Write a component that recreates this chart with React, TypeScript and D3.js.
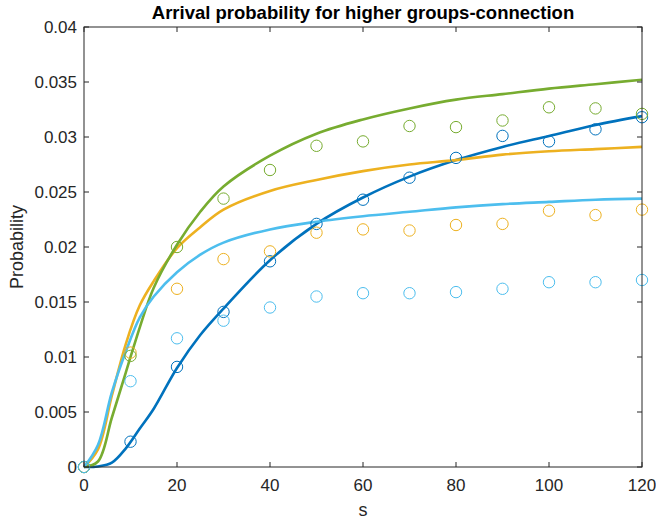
import React from "react";
import * as d3 from "d3";

const sPoints = [0, 10, 20, 30, 40, 50, 60, 70, 80, 90, 100, 110, 120];
const blueSim = [0, 0.0023, 0.0091, 0.0141, 0.0187, 0.0221, 0.0243, 0.0263, 0.0281, 0.0301, 0.0296, 0.0307, 0.0318];
const orangeSim = [0, 0.0104, 0.0162, 0.0189, 0.0196, 0.0213, 0.0216, 0.0215, 0.022, 0.0221, 0.0233, 0.0229, 0.0234];
const greenSim = [0, 0.0101, 0.02, 0.0244, 0.027, 0.0292, 0.0296, 0.031, 0.0309, 0.0315, 0.0327, 0.0326, 0.0321];
const lightSim = [0, 0.0078, 0.0117, 0.0133, 0.0145, 0.0155, 0.0158, 0.0158, 0.0159, 0.0162, 0.0168, 0.0168, 0.017];

const sLine = [0, 3, 6, 9, 12, 15, 20, 25, 30, 40, 50, 60, 70, 80, 90, 100, 110, 120];
const blueModel = [0, 0.00005, 0.0004, 0.0017, 0.0035, 0.0053, 0.009, 0.012, 0.0144, 0.0188, 0.0221, 0.0245, 0.0264, 0.0279, 0.0291, 0.0301, 0.0311, 0.0319];
const orangeModel = [0, 0.0016, 0.0065, 0.0112, 0.0147, 0.0169, 0.0199, 0.0218, 0.0234, 0.0251, 0.0261, 0.0269, 0.0275, 0.0279, 0.0284, 0.0287, 0.0289, 0.0291];
const greenModel = [0, 0.0005, 0.0045, 0.0086, 0.0127, 0.0163, 0.0202, 0.0232, 0.0255, 0.0283, 0.0303, 0.0316, 0.0326, 0.0334, 0.0339, 0.0344, 0.0348, 0.0352];
const lightModel = [0, 0.002, 0.0068, 0.0105, 0.0136, 0.0155, 0.0177, 0.0193, 0.0204, 0.0216, 0.0223, 0.0228, 0.0232, 0.0236, 0.0239, 0.0241, 0.0243, 0.0244];

const xTicks = [0, 20, 40, 60, 80, 100, 120];
const yTicks = [0, 0.005, 0.01, 0.015, 0.02, 0.025, 0.03, 0.035, 0.04];
const yTickLabels = ["0", "0.005", "0.01", "0.015", "0.02", "0.025", "0.03", "0.035", "0.04"];

const series = [
  { color: "#0072BD", model: blueModel, sim: blueSim },
  { color: "#EDB120", model: orangeModel, sim: orangeSim },
  { color: "#77AC30", model: greenModel, sim: greenSim },
  { color: "#4DBEEE", model: lightModel, sim: lightSim },
];

export default function App() {
  const W = 656, H = 521;
  const left = 84, right = 642, top = 27, bottom = 467;
  const x = d3.scaleLinear().domain([0, 120]).range([left, right]);
  const y = d3.scaleLinear().domain([0, 0.04]).range([bottom, top]);
  const axisColor = "#262626";
  const font = "'Liberation Sans', Arial, Helvetica, sans-serif";
  const line = d3
    .line<number>()
    .x((_, i) => x(sLine[i]))
    .y((d) => y(d))
    .curve(d3.curveCatmullRom.alpha(0.5));
  const tl = 5;
  return (
    <svg width={W} height={H} style={{ position: "absolute", left: 0, top: 0 }}>
      <rect x={0} y={0} width={W} height={H} fill="#fff" />
      {series.map((s, k) => (
        <path key={"l" + k} d={line(s.model) || ""} fill="none" stroke={s.color} strokeWidth={2.6} strokeLinejoin="round" />
      ))}
      {series.map((s, k) => (
        <g key={"m" + k}>
          {s.sim.map((v, i) => (
            <circle key={i} cx={x(sPoints[i])} cy={y(v)} r={5.7} fill="none" stroke={s.color} strokeWidth={1} />
          ))}
        </g>
      ))}
      <rect x={left} y={top} width={right - left} height={bottom - top} fill="none" stroke={axisColor} strokeWidth={1} />
      {xTicks.map((t) => (
        <g key={"xt" + t}>
          <line x1={x(t)} x2={x(t)} y1={bottom} y2={bottom - tl} stroke={axisColor} />
          <line x1={x(t)} x2={x(t)} y1={top} y2={top + tl} stroke={axisColor} />
          <text x={x(t)} y={490.5} textAnchor="middle" fontFamily={font} fontSize={17} fill={axisColor}>
            {t}
          </text>
        </g>
      ))}
      {yTicks.map((t, i) => (
        <g key={"yt" + i}>
          <line x1={left} x2={left + tl} y1={y(t)} y2={y(t)} stroke={axisColor} />
          <line x1={right} x2={right - tl} y1={y(t)} y2={y(t)} stroke={axisColor} />
          <text x={77} y={y(t) + 6} textAnchor="end" fontFamily={font} fontSize={17} fill={axisColor}>
            {yTickLabels[i]}
          </text>
        </g>
      ))}
      <text x={(left + right) / 2} y={19} textAnchor="middle" fontFamily={font} fontSize={18.5} fontWeight="bold" fill="#000">
        Arrival probability for higher groups-connection
      </text>
      <text x={(left + right) / 2} y={516} textAnchor="middle" fontFamily={font} fontSize={18} fill={axisColor}>
        s
      </text>
      <text
        transform={`translate(23, ${(top + bottom) / 2}) rotate(-90)`}
        textAnchor="middle"
        fontFamily={font}
        fontSize={18}
        fill={axisColor}
      >
        Probability
      </text>
    </svg>
  );
}
